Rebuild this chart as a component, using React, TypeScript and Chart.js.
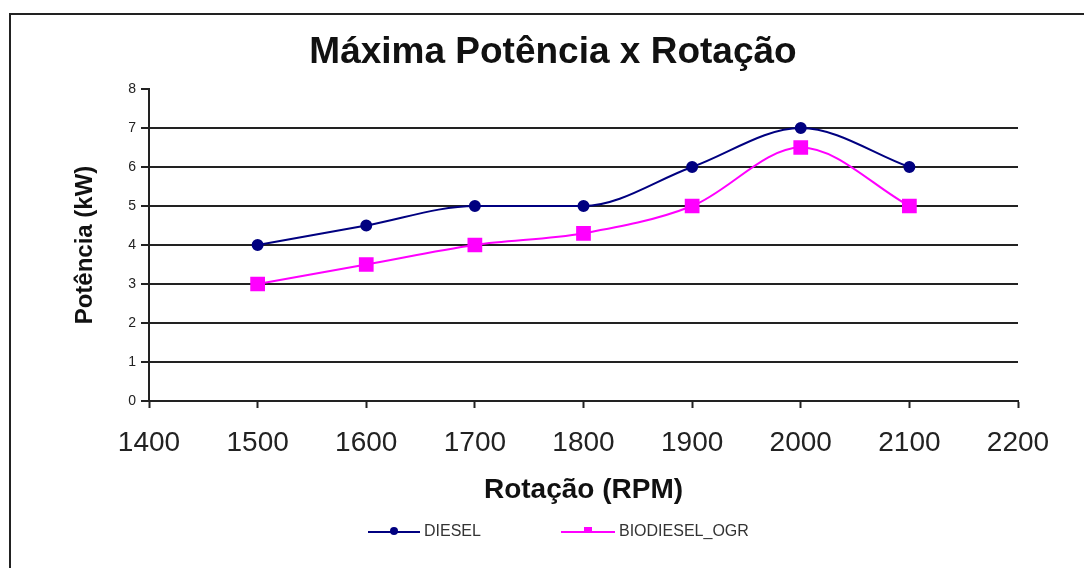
import React, { useEffect, useRef } from "react";
import { Chart, registerables } from "chart.js";

Chart.register(...registerables);

const TITLE = "Máxima Potência x Rotação";
const X_TITLE = "Rotação (RPM)";
const Y_TITLE = "Potência (kW)";
const rpm = [1500, 1600, 1700, 1800, 1900, 2000, 2100];
const diesel = [4, 4.5, 5, 5, 6, 7, 6];
const biodiesel = [3, 3.5, 4, 4.3, 5, 6.5, 5];
const seriesNames = ["DIESEL", "BIODIESEL_OGR"];
const seriesColors = ["#000080", "#ff00ff"];

const FONT = "'Liberation Sans', Arial, sans-serif";

const decorPlugin = {
  id: "decor",
  beforeDraw(chart: any) {
    const ctx = chart.ctx;
    ctx.save();
    ctx.fillStyle = "#ffffff";
    ctx.fillRect(0, 0, chart.width, chart.height);
    ctx.strokeStyle = "#222";
    ctx.lineWidth = 2;
    ctx.beginPath();
    ctx.moveTo(10, chart.height + 5);
    ctx.lineTo(10, 14);
    ctx.lineTo(chart.width + 5, 14);
    ctx.stroke();
    ctx.restore();
  },
  afterDraw(chart: any) {
    const ctx = chart.ctx;
    ctx.save();
    // title
    ctx.fillStyle = "#111";
    ctx.font = `bold 37px ${FONT}`;
    ctx.textAlign = "center";
    ctx.textBaseline = "alphabetic";
    ctx.fillText(TITLE, 553, 63);
    // legend
    const items = [
      { x0: 368, x1: 420, name: seriesNames[0], color: seriesColors[0], shape: "circle" },
      { x0: 561, x1: 615, name: seriesNames[1], color: seriesColors[1], shape: "rect" },
    ];
    const ly = 532;
    items.forEach((it) => {
      ctx.strokeStyle = it.color;
      ctx.lineWidth = 2;
      ctx.beginPath();
      ctx.moveTo(it.x0, ly);
      ctx.lineTo(it.x1, ly);
      ctx.stroke();
      ctx.fillStyle = it.color;
      const cx = (it.x0 + it.x1) / 2;
      if (it.shape === "circle") {
        ctx.beginPath();
        ctx.arc(cx, ly - 1, 4, 0, Math.PI * 2);
        ctx.fill();
      } else {
        ctx.fillRect(cx - 4, ly - 5, 8, 6);
      }
      ctx.fillStyle = "#333";
      ctx.font = `16px ${FONT}`;
      ctx.textAlign = "left";
      ctx.textBaseline = "alphabetic";
      ctx.fillText(it.name, it.x1 + 4, ly + 4);
    });
    ctx.restore();
  },
};

export default function App() {
  const ref = useRef<HTMLCanvasElement | null>(null);

  useEffect(() => {
    if (!ref.current) return;
    const chart = new Chart(ref.current, {
      type: "line",
      data: {
        datasets: [
          {
            label: seriesNames[0],
            data: rpm.map((x, i) => ({ x, y: diesel[i] })),
            borderColor: seriesColors[0],
            backgroundColor: seriesColors[0],
            borderWidth: 2,
            pointStyle: "circle",
            pointRadius: 5,
            cubicInterpolationMode: "monotone",
          },
          {
            label: seriesNames[1],
            data: rpm.map((x, i) => ({ x, y: biodiesel[i] })),
            borderColor: seriesColors[1],
            backgroundColor: seriesColors[1],
            borderWidth: 2,
            pointStyle: "rect",
            pointRadius: 9,
            cubicInterpolationMode: "monotone",
          },
        ],
      },
      options: {
        responsive: false,
        animation: false,
        layout: { padding: { left: 0, top: 89, right: 66, bottom: 0 } },
        plugins: {
          legend: { display: false },
          title: { display: false },
          tooltip: { enabled: false },
        },
        scales: {
          x: {
            type: "linear",
            min: 1400,
            max: 2200,
            afterFit: (s: any) => {
              s.height = 167;
            },
            ticks: {
              stepSize: 100,
              color: "#222",
              font: { family: FONT, size: 28 },
              padding: 18,
              maxRotation: 0,
              callback: (v: any) => String(v),
            },
            grid: {
              drawOnChartArea: false,
              drawTicks: true,
              tickLength: 7,
              tickColor: "#222",
              tickWidth: 2,
            },
            border: { display: true, color: "#222", width: 2 },
            title: {
              display: true,
              text: X_TITLE,
              color: "#111",
              font: { family: FONT, size: 28, weight: "bold" },
              padding: { top: 0, bottom: 61 },
            },
          },
          y: {
            min: 0,
            max: 8,
            afterFit: (s: any) => {
              s.width = 149;
            },
            ticks: {
              stepSize: 1,
              color: "#222",
              font: { family: FONT, size: 14 },
              padding: 5,
            },
            grid: {
              color: (c: any) => (c.tick && c.tick.value === 8 ? "rgba(0,0,0,0)" : "#222"),
              lineWidth: 2,
              drawTicks: true,
              tickLength: 8,
              tickColor: "#222",
              tickWidth: 2,
            },
            border: { display: true, color: "#222", width: 2 },
            title: {
              display: true,
              text: Y_TITLE,
              color: "#111",
              font: { family: FONT, size: 24, weight: "bold" },
              padding: { top: 71, bottom: 0 },
            },
          },
        },
      },
      plugins: [decorPlugin],
    });
    return () => chart.destroy();
  }, []);

  return (
    <div style={{ position: "fixed", left: 0, top: 0, width: 1084, height: 568, background: "#fff" }}>
      <canvas ref={ref} width={1084} height={568} style={{ display: "block" }} />
    </div>
  );
}
